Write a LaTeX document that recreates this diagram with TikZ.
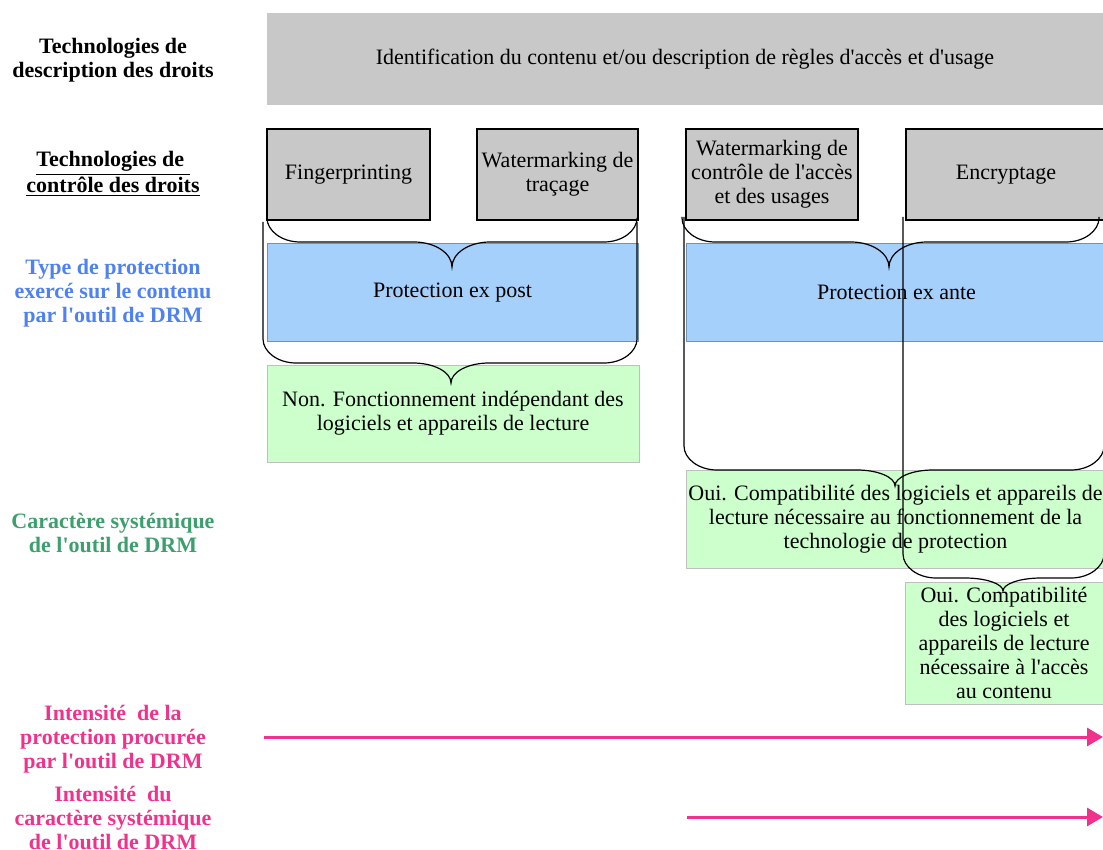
\documentclass[tikz,border=0pt]{standalone}
\usepackage{fontspec}
\setmainfont{Liberation Serif}
\usetikzlibrary{arrows.meta}
\definecolor{drmgrey}{RGB}{200,200,200}
\definecolor{drmblue}{RGB}{166,208,252}
\definecolor{drmgreen}{RGB}{204,255,204}
\definecolor{txtblue}{RGB}{79,129,240}
\definecolor{txtgreen}{RGB}{60,160,110}
\definecolor{drmpink}{RGB}{240,50,140}
\newcommand{\ap}{\textquotesingle}

\begin{document}
\begin{tikzpicture}[x=0.5pt,y=-0.5pt,
	every node/.style={font=\fontsize{11}{12}\selectfont},
	cell/.style={inner sep=0pt,align=center},
	descbox/.style={cell,fill=drmgrey},
	ctrlbox/.style={cell,fill=drmgrey,draw=black,line width=1pt},
	protbox/.style={cell,fill=drmblue,draw=black!30!drmblue,line width=0.5pt},
	sysbox/.style={cell,fill=drmgreen,draw=black!25,line width=0.5pt},
	rowlabel/.style={align=center,font=\fontsize{11}{12}\selectfont\bfseries},
	intensity/.style={drmpink,line width=1.5pt,-{Triangle[length=8pt,width=9pt]}}]
\useasboundingbox (0,0) rectangle (1103,850);

% row labels
\node[rowlabel] (ldesc) at (113,60) {Technologies de\\description des droits};
\node[rowlabel] (lctrl) at (113,174) {\underline{Technologies de\ }\\\underline{contr\^ole des droits}};
\node[rowlabel,txtblue] (ltype) at (113,293) {Type de protection\\exerc\'e sur le contenu\\par l\ap outil de DRM};
\node[rowlabel,txtgreen] (lsys) at (113,533) {Caract\`ere syst\'emique\\de l\ap outil de DRM};
\node[rowlabel,drmpink] (lint) at (113,739) {Intensit\'e~ de la\\protection procur\'ee\\par l\ap outil de DRM};
\node[rowlabel,drmpink] (lintsys) at (113,818) {Intensit\'e~ du\\caract\`ere syst\'emique\\de l\ap outil de DRM};

% boxes
\node[descbox,minimum width=418pt,minimum height=46pt] (ident) at (685,59)
	{Identification du contenu et/ou description de r\`egles d\ap acc\`es et d\ap usage};
\node[ctrlbox,minimum width=81.5pt,minimum height=45.5pt] (finger) at (348.5,174.5) {Fingerprinting};
\node[ctrlbox,minimum width=80.5pt,minimum height=45.5pt] (wtrace) at (557.5,174.5) {Watermarking de\\tra\c{c}age};
\node[ctrlbox,minimum width=86pt,minimum height=45.5pt] (wctrl) at (772,174.5) {Watermarking de\\contr\^ole de l\ap acc\`es\\et des usages};
\node[ctrlbox,minimum width=100.5pt,minimum height=45.5pt] (crypt) at (1006,174.5) {Encryptage};

\node[protbox,minimum width=185.5pt,minimum height=48.5pt] (expost) at (452.5,292.5) {Protection ex post};
\node[protbox,minimum width=210.5pt,minimum height=48.5pt] (exante) at (896.5,292.5) {Protection ex ante};

\node[sysbox,minimum width=186pt,minimum height=48.5pt] (non) at (453,413.5)
	{Non. Fonctionnement ind\'ependant des\\logiciels et appareils de lecture};
\node[sysbox,minimum width=209.5pt,minimum height=49pt] (oui) at (895.5,519)
	{Oui. Compatibilit\'e des logiciels et appareils de\\lecture n\'ecessaire au fonctionnement de la\\technologie de protection};
\node[sysbox,minimum width=99pt,minimum height=61pt] (ouiacc) at (1004,643)
	{Oui. Compatibilit\'e\\des logiciels et\\appareils de lecture\\n\'ecessaire \`a l\ap acc\`es\\au contenu};

% braces (arms, rounded corners, tip)
\foreach \xl/\xr/\yt/\yh/\xm/\yp in {267/637/218/242/452/267, 263/637/222/363/451/383,
		682/1099/217/242/889/267, 684/1104/217/470/895/486, 903/1104/217/578/1003/591} {
	\draw[line width=0.6pt] (\xl,\yt) -- (\xl,{max(\yt,\yh-24)})
		.. controls (\xl,{\yh-11}) and ({\xl+15},\yh) .. ({\xl+33},\yh)
		-- ({\xm-38},\yh) .. controls ({\xm-17},\yh) and (\xm,{\yh+0.45*(\yp-\yh)}) .. (\xm,\yp)
		.. controls (\xm,{\yh+0.45*(\yp-\yh)}) and ({\xm+17},\yh) .. ({\xm+38},\yh)
		-- ({\xr-33},\yh) .. controls ({\xr-15},\yh) and (\xr,{\yh-11}) .. (\xr,{max(\yt,\yh-24)}) -- (\xr,\yt);
}

% intensity arrows
\coordinate (int1a) at (264,737);
\coordinate (int1b) at (1103,737);
\coordinate (int2a) at (687,817);
\coordinate (int2b) at (1103,817);
\draw[intensity] (int1a) -- (int1b);
\draw[intensity] (int2a) -- (int2b);
\end{tikzpicture}
\end{document}
